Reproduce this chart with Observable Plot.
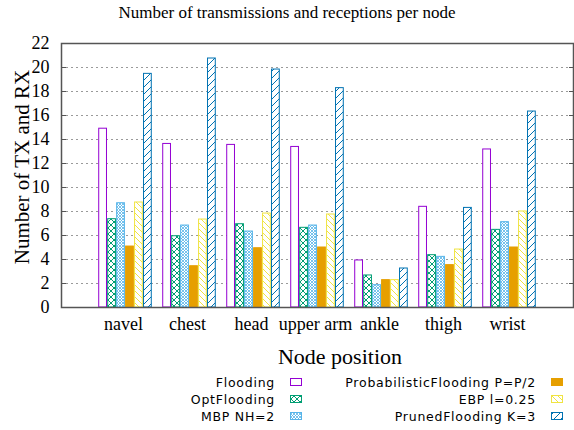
<!DOCTYPE html>
<html>
<head>
<meta charset="utf-8">
<script src="https://cdn.jsdelivr.net/npm/d3@7"></script>
<script src="https://cdn.jsdelivr.net/npm/@observablehq/plot@0.6"></script>
<style>
  body { margin: 0; background: #fff; }
  #wrap { position: relative; width: 574px; height: 430px; overflow: hidden; }
  #chart { position: absolute; left: 0; top: 0; }
  .serif { font-family: "Liberation Serif", "Times New Roman", serif; color: #000; position: absolute; white-space: nowrap; }
  #title { left: 0; width: 574px; top: 4px; text-align: center; font-size: 17px; line-height: 17px; }
  #ylab { left: 22px; top: 167px; font-size: 21px; line-height: 21px; transform: translate(-50%, -50%) rotate(-90deg); }
  #xlab { left: 340px; top: 357px; font-size: 22px; line-height: 22px; transform: translate(-50%, -50%); }
  #legend { position: absolute; left: 0; top: 0; }
</style>
</head>
<body>
<div id="wrap">
  <div id="chart"></div>
  <div id="title" class="serif">Number of transmissions and receptions per node</div>
  <div id="ylab" class="serif">Number of TX and RX</div>
  <div id="xlab" class="serif">Node position</div>
</div>
<script>
// ---- data ----
const nodes = ["navel", "chest", "head", "upper arm", "ankle", "thigh", "wrist"];
const seriesNames = ["Flooding", "OptFlooding", "MBP NH=2", "ProbabilisticFlooding P=P/2", "EBP l=0.25", "PrunedFlooding K=3"];
const flooding      = [14.9, 13.63, 13.55, 13.38, 3.92, 8.39, 13.17];
const optFlooding   = [7.36, 5.94, 6.94, 6.64, 2.67, 4.36, 6.47];
const mbp           = [8.69, 6.83, 6.33, 6.83, 1.86, 4.22, 7.11];
const probFlooding  = [5.08, 3.44, 4.94, 5.0, 2.28, 3.53, 5.0];
const ebp           = [8.75, 7.33, 7.83, 7.75, 2.28, 4.83, 8.0];
const prunedFlooding= [19.47, 20.75, 19.83, 18.28, 3.25, 8.3, 16.33];
const yTicks = [0, 2, 4, 6, 8, 10, 12, 14, 16, 18, 20, 22];

const seriesValues = [flooding, optFlooding, mbp, probFlooding, ebp, prunedFlooding];
const colors = ["#9400d3", "#009e73", "#56b4e9", "#e69f00", "#f0e442", "#0072b2"];
const fills = ["#ffffff", "url(#pOpt)", "url(#pMbp)", "#e69f00", "url(#pEbp)", "url(#pPruned)"];

// cluster geometry (like gnuplot clustered histogram): 6 bars share 0.84 of each unit
const nS = seriesNames.length;
const clusterW = 0.84;
const barW = clusterW / nS;

const table = seriesValues.map((vals, k) =>
  vals.map((v, i) => ({ i, k, node: nodes[i], series: seriesNames[k], value: v }))
);

const barMarks = table.map((rows, k) =>
  Plot.rectY(rows, {
    x1: d => d.i - clusterW / 2 + d.k * barW,
    x2: d => d.i - clusterW / 2 + (d.k + 1) * barW,
    y1: 0,
    y2: "value",
    fill: fills[k],
    stroke: colors[k],
    strokeWidth: 1,
    insetLeft: 0.6,
    insetRight: 0.6
  })
);

const serif = "Liberation Serif, Times New Roman, serif";

const plot = Plot.plot({
  width: 574,
  height: 430,
  marginLeft: 61,
  marginRight: 1,
  marginTop: 43,
  marginBottom: 123,
  style: { background: "transparent", color: "#000", overflow: "visible" },
  x: { type: "linear", domain: [-1, 7], axis: null },
  y: { domain: [0, 22], axis: null },
  marks: [
    Plot.gridY(yTicks.slice(1, -1), { stroke: "#9a9a9a", strokeOpacity: 1, strokeDasharray: "2,3", strokeWidth: 1 }),
    ...barMarks,
    Plot.axisY(yTicks, { anchor: "left", tickSize: 0, tickPadding: 12, fontSize: 18, fontFamily: serif, fill: "#000", label: null }),
    Plot.axisY(yTicks, { anchor: "left", tickSize: -5, text: null, stroke: "#555", label: null }),
    Plot.axisY(yTicks, { anchor: "right", tickSize: -5, text: null, stroke: "#555", label: null }),
    Plot.axisX(d3.range(nodes.length), { anchor: "bottom", tickSize: 0, tickPadding: 10, tickFormat: i => nodes[i], fontSize: 18, fontFamily: serif, fill: "#000", dx: -2, label: null }),
    Plot.frame({ stroke: "#555", strokeWidth: 1.5 })
  ]
});

// pattern definitions
const ns = "http://www.w3.org/2000/svg";
function addDefs(svg) {
  const defs = document.createElementNS(ns, "defs");
  defs.innerHTML = `
    <pattern id="pOpt" patternUnits="userSpaceOnUse" width="6" height="6">
      <rect width="6" height="6" fill="#fff"/>
      <path d="M0,0 L6,6 M6,0 L0,6" stroke="#009e73" stroke-width="1" fill="none"/>
    </pattern>
    <pattern id="pMbp" patternUnits="userSpaceOnUse" width="3" height="3">
      <rect width="3" height="3" fill="#fff"/>
      <path d="M0,0 L3,3 M3,0 L0,3" stroke="#56b4e9" stroke-width="0.8" fill="none"/>
    </pattern>
    <pattern id="pEbp" patternUnits="userSpaceOnUse" width="6" height="6">
      <rect width="6" height="6" fill="#fff"/>
      <path d="M0,0 L6,6 M-1,5 L1,7 M5,-1 L7,1" stroke="#f0e442" stroke-width="1" fill="none"/>
    </pattern>
    <pattern id="pPruned" patternUnits="userSpaceOnUse" width="7" height="7">
      <rect width="7" height="7" fill="#fff"/>
      <path d="M0,7 L7,0 M-1,1 L1,-1 M6,8 L8,6" stroke="#0072b2" stroke-width="1" fill="none"/>
    </pattern>`;
  svg.insertBefore(defs, svg.firstChild);
}
addDefs(plot);
document.getElementById("chart").appendChild(plot);

// legend
const legend = document.createElementNS(ns, "svg");
legend.setAttribute("id", "legend");
legend.setAttribute("width", 574);
legend.setAttribute("height", 430);
addDefs(legend);
const rowsY = [382, 399, 416];
const colText = [275, 536];
const colBox = [290, 551];
seriesNames.forEach((name, k) => {
  const col = Math.floor(k / 3), row = k % 3;
  const t = document.createElementNS(ns, "text");
  t.setAttribute("x", colText[col]);
  t.setAttribute("y", rowsY[row]);
  t.setAttribute("text-anchor", "end");
  t.setAttribute("dominant-baseline", "central");
  t.setAttribute("font-family", "DejaVu Sans, sans-serif");
  t.setAttribute("font-size", "12.5");
  t.setAttribute("letter-spacing", "0.75");
  t.setAttribute("fill", "#000");
  t.textContent = name;
  legend.appendChild(t);
  const r = document.createElementNS(ns, "rect");
  r.setAttribute("x", colBox[col] + 0.5);
  r.setAttribute("y", rowsY[row] - 3.5);
  r.setAttribute("width", 11);
  r.setAttribute("height", 7);
  r.setAttribute("fill", fills[k]);
  r.setAttribute("stroke", colors[k]);
  r.setAttribute("stroke-width", 1);
  legend.appendChild(r);
});
document.getElementById("wrap").appendChild(legend);
</script>
</body>
</html>
